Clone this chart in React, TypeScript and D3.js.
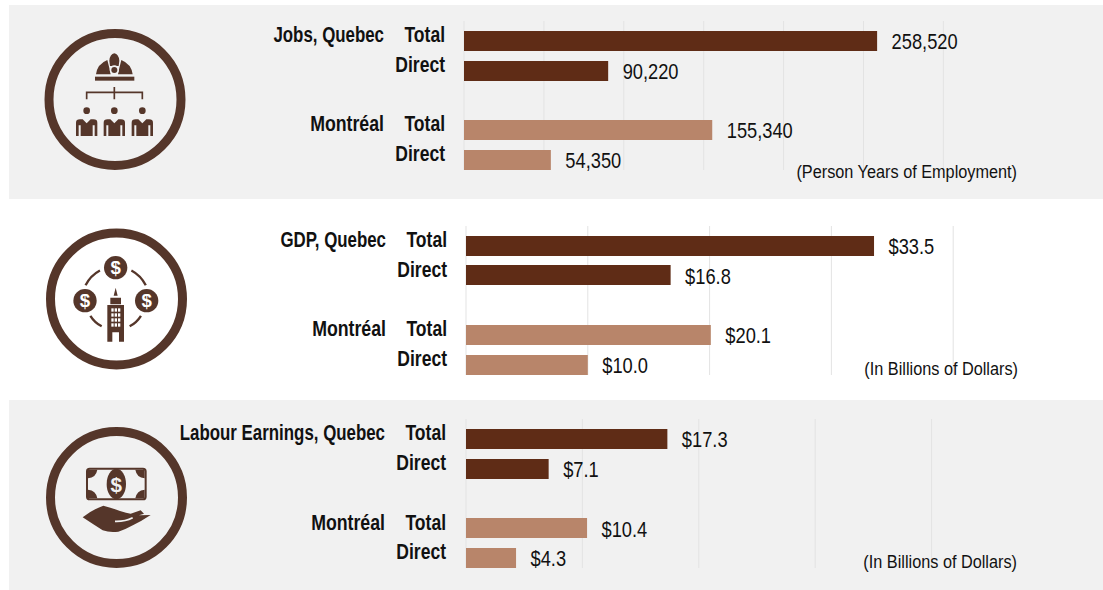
import React from "react";
import * as d3 from "d3";

const FONT = "'Liberation Sans',Arial,sans-serif";
const DARK = "#5f2c16";
const LIGHT = "#b8856a";
const ICON = "#55362a";
const BG = "#f1f1f1";

const rowLabels = ["Total", "Direct", "Total", "Direct"];
const jobsValues = [258520, 90220, 155340, 54350];
const gdpValues = [33.5, 16.8, 20.1, 10.0];
const earningsValues = [17.3, 7.1, 10.4, 4.3];
const jobsLabels = ["258,520", "90,220", "155,340", "54,350"];
const gdpLabels = ["$33.5", "$16.8", "$20.1", "$10.0"];
const earningsLabels = ["$17.3", "$7.1", "$10.4", "$4.3"];
const jobsTicks = [0, 50000, 100000, 150000, 200000, 250000, 300000];
const gdpTicks = [0, 10, 20, 30, 40];
const earningsTicks = [0, 10, 20, 30, 40];

type P = {
  top: number; bottom: number; bg: string; axisX: number; perTick: number; tickStep: number;
  ticks: number[]; values: number[]; labels: string[]; heading: string; unit: string; unitX: number; unitY: number;
  barYs: number[]; labelYs: number[]; rowX: number; headX: number; gridTop: number; gridBottom: number; cx: number; cy: number; icon: number;
};

const panels: P[] = [
  { top: 5, bottom: 199, bg: BG, axisX: 464, perTick: 79.9, tickStep: 50000, ticks: jobsTicks, values: jobsValues, labels: jobsLabels,
    heading: "Jobs, Quebec", unit: "(Person Years of Employment)", unitX: 1017, unitY: 178, barYs: [31, 61, 120, 150], labelYs: [42, 72, 131, 161], rowX: 445, headX: 384, gridTop: 21, gridBottom: 170, cx: 115, cy: 99.5, icon: 0 },
  { top: 200, bottom: 399, bg: "#ffffff", axisX: 466, perTick: 121.8, tickStep: 10, ticks: gdpTicks, values: gdpValues, labels: gdpLabels,
    heading: "GDP, Quebec", unit: "(In Billions of Dollars)", unitX: 1018, unitY: 375, barYs: [236, 265, 325, 355], labelYs: [247, 277, 336, 366], rowX: 447, headX: 386, gridTop: 226, gridBottom: 375, cx: 116.5, cy: 299, icon: 1 },
  { top: 400, bottom: 590, bg: BG, axisX: 466, perTick: 116.4, tickStep: 10, ticks: earningsTicks, values: earningsValues, labels: earningsLabels,
    heading: "Labour Earnings, Quebec", unit: "(In Billions of Dollars)", unitX: 1017, unitY: 568, barYs: [429, 459, 518, 548], labelYs: [440, 470, 530, 559], rowX: 446, headX: 385, gridTop: 419, gridBottom: 568, cx: 116.5, cy: 497.5, icon: 2 },
];

function Txt({ x, y, sx, children, ...rest }: any) {
  return (
    <text transform={`translate(${x},${y}) scale(${sx},1)`} fontFamily={FONT} fill="#111" fontSize={21.5} {...rest}>
      {children}
    </text>
  );
}
const Bold = (p: any) => <Txt textAnchor="end" fontWeight="bold" {...p} />;

function Person({ x }: { x: number }) {
  return (
    <g transform={`translate(${x},0)`} fill={ICON}>
      <circle cx={0} cy={212} r={10} />
      <path d="M-32,288 V248 Q-32,238 -20,238 L-12,238 L0,250 L12,238 L20,238 Q32,238 32,248 V288 H24 V256 H18 V288 H-18 V256 H-24 V288 Z" />
    </g>
  );
}

function JobsIcon() {
  return (
    <g transform="translate(60,40) scale(0.3333)">
      <path fill={ICON} d="M108,103 Q112,72 142,60 L148,84 L152,103 Z M218,103 Q214,72 184,60 L178,84 L174,103 Z M148,62 Q150,42 163,40 Q176,42 178,62 L176,78 L150,78 Z" />
      <circle cx={163} cy={90} r={14} fill={BG} />
      <circle cx={163} cy={90} r={9} fill={ICON} />
      <rect x={105} y={110} width={118} height={12} fill={ICON} />
      <path d="M80,178 V157 H247 V178 M163,141 V178" fill="none" stroke={ICON} strokeWidth={5} />
      <Person x={80} /><Person x={163} /><Person x={247} />
    </g>
  );
}

function Coin({ x, y }: { x: number; y: number }) {
  return (
    <g>
      <circle cx={x} cy={y} r={35} fill={ICON} />
      <text x={x} y={y + 20} textAnchor="middle" fontFamily={FONT} fontWeight="bold" fontSize={56} fill="#fff">$</text>
    </g>
  );
}

const upperArcs: [number, number][] = [[-64, -28], [28, 64]];
const lowerArcs: [number, number][] = [[122, 152], [-152, -122]];

function GdpIcon() {
  const ring = (inner: number, outer: number) => d3.arc<[number, number]>().innerRadius(inner).outerRadius(outer)
    .startAngle((d) => (d[0] * Math.PI) / 180).endAngle((d) => (d[1] * Math.PI) / 180);
  const up = ring(97, 104);
  const low = ring(86, 93);
  const windows = d3.cross([139, 149, 159], [190, 205, 220, 235]);
  return (
    <g transform="translate(65,245) scale(0.3333)">
      {upperArcs.map((g, i) => <path key={i} transform="translate(152,165)" d={up(g) || ""} fill={ICON} />)}
      {lowerArcs.map((g, i) => <path key={i} transform="translate(152,165)" d={low(g) || ""} fill={ICON} />)}
      <Coin x={152} y={68} /><Coin x={60} y={167} /><Coin x={245} y={167} />
      <path fill={ICON} d="M152,128 L158,152 H146 Z M136,178 V158 H168 V178 Z M127,180 H177 V290 H162 V262 H142 V290 H127 Z" />
      {windows.map(([x, y], i) => <rect key={i} x={x} y={y} width={7} height={10} fill="#fff" />)}
    </g>
  );
}

function EarningsIcon() {
  return (
    <g transform="translate(70,455) scale(0.3333)">
      <rect x={51} y={41} width={176} height={92} rx={8} fill={BG} stroke={ICON} strokeWidth={6} />
      <path fill={ICON} d="M54,44 H82 Q78,68 54,70 Z M224,44 H196 Q200,68 224,70 Z M54,130 H82 Q78,106 54,104 Z M224,130 H196 Q200,106 224,104 Z" />
      <ellipse cx={139} cy={87} rx={29} ry={46} fill={ICON} />
      <text x={139} y={110} textAnchor="middle" fontFamily={FONT} fontWeight="bold" fontSize={62} fill={BG}>$</text>
      <path fill={ICON} d="M38,187 Q70,162 100,152 Q125,158 150,168 Q170,174 182,176 L212,166 L222,176 L207,181 L242,180 Q215,198 190,210 Q165,224 145,230 Q120,234 98,226 L70,208 Z" />
      <path fill="none" stroke={BG} strokeWidth={5} d="M135,199 Q165,200 188,188" />
    </g>
  );
}

function Panel({ p }: { p: P }) {
  const x = d3.scaleLinear().domain([0, p.tickStep]).range([p.axisX, p.axisX + p.perTick]);
  const Icon = [JobsIcon, GdpIcon, EarningsIcon][p.icon];
  return (
    <g>
      <rect x={p.bg === "#ffffff" ? 0 : 9} y={p.top} width={1094} height={p.bottom - p.top} fill={p.bg} />
      <circle cx={p.cx} cy={p.cy} r={66} fill="none" stroke={ICON} strokeWidth={9} />
      <Icon />
      {p.ticks.map((t) => (
        <line key={t} x1={x(t)} x2={x(t)} y1={p.gridTop} y2={p.gridBottom} stroke="#e3e3e3" strokeWidth={1} />
      ))}
      {p.values.map((v, i) => (
        <g key={i}>
          <rect x={x(0)} y={p.barYs[i]} width={x(v) - x(0)} height={20} fill={i < 2 ? DARK : LIGHT} />
          <Txt x={x(v) + 14.5} y={p.labelYs[i] + 7} sx={0.85}>{p.labels[i]}</Txt>
          <Bold x={p.rowX} y={p.labelYs[i]} sx={0.815}>{rowLabels[i]}</Bold>
        </g>
      ))}
      <Bold x={p.headX} y={p.labelYs[0]} sx={0.785}>{p.heading}</Bold>
      <Bold x={p.headX} y={p.labelYs[2]} sx={0.825}>Montréal</Bold>
      <Txt x={p.unitX} y={p.unitY} textAnchor="end" sx={0.88} fontSize={18.5}>{p.unit}</Txt>
    </g>
  );
}

export default function App() {
  return (
    <svg width={1103} height={590} style={{ position: "absolute", left: 0, top: 0, background: "#fff" }}>
      {panels.map((p, i) => <Panel key={i} p={p} />)}
    </svg>
  );
}
